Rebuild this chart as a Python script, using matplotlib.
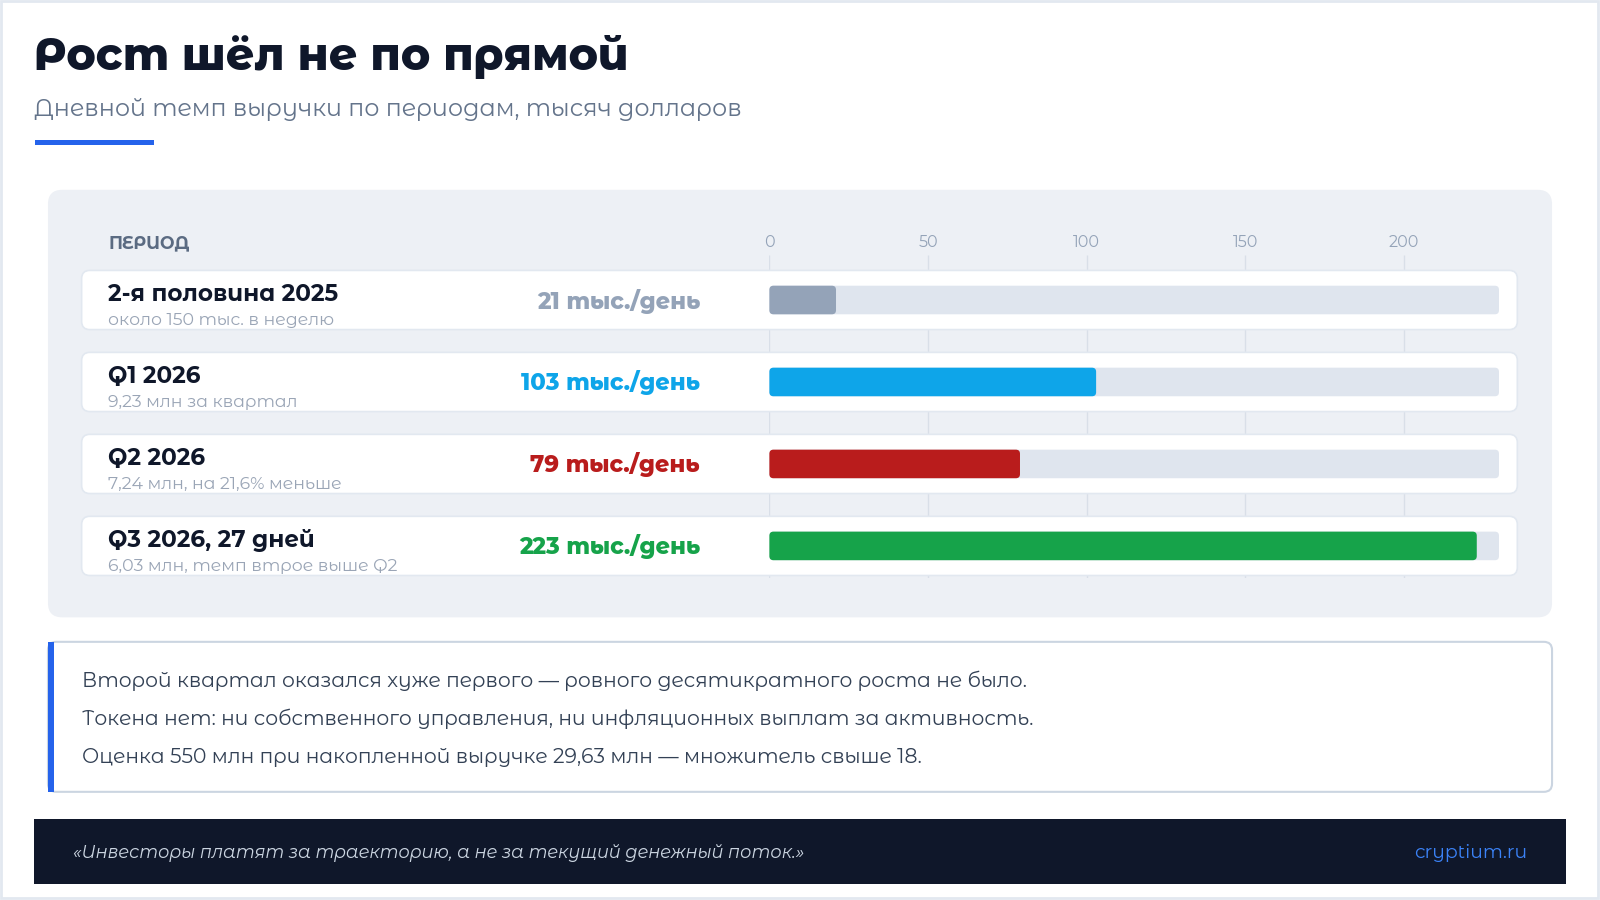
import matplotlib.pyplot as plt
from matplotlib.patches import FancyBboxPatch, Rectangle
from matplotlib.transforms import Affine2D

plt.rcParams['font.family'] = ['Montserrat Alternates', 'DejaVu Sans']

# данные
periods = ['2-я половина 2025', 'Q1 2026', 'Q2 2026', 'Q3 2026, 27 дней']
notes = ['около 150 тыс. в неделю', '9,23 млн за квартал',
         '7,24 млн, на 21,6% меньше', '6,03 млн, темп втрое выше Q2']
rates = [21, 103, 79, 223]
rate_labels = ['21 тыс./день', '103 тыс./день', '79 тыс./день', '223 тыс./день']
bar_colors = ['#94a3b8', '#0ea5e9', '#b91c1c', '#16a34a']
ticks = [0, 50, 100, 150, 200]
x_max = 230

title = 'Рост шёл не по прямой'
subtitle = 'Дневной темп выручки по периодам, тысяч долларов'
summary = ['Второй квартал оказался хуже первого — ровного десятикратного роста не было.',
           'Токена нет: ни собственного управления, ни инфляционных выплат за активность.',
           'Оценка 550 млн при накопленной выручке 29,63 млн — множитель свыше 18.']
quote = '«Инвесторы платят за траекторию, а не за текущий денежный поток.»'
site = 'cryptium.ru'

W, H = 1568, 882
fig = plt.figure(figsize=(16, 9), dpi=100)
px = Affine2D().scale(1 / W, -1 / H).translate(0, 1) + fig.transFigure

bg = fig.add_axes([0, 0, 1, 1])
bg.set_xlim(0, W)
bg.set_ylim(H, 0)
bg.axis('off')

# рамка
bg.add_patch(Rectangle((1, 1), W - 3, H - 3, fill=False, ec='#e2e8f0', lw=2))

# заголовок
bg.text(33, 56, title, fontsize=32, fontweight=800, color='#0f172a', va='center')
bg.text(33, 107, subtitle, fontsize=17.2, fontweight=400, color='#64748b', va='center')
bg.add_patch(Rectangle((34, 137), 117, 5, color='#2563eb', lw=0))

# панель графика
bg.add_patch(FancyBboxPatch((47, 186), 1474, 419, boxstyle='round,pad=0,rounding_size=14',
                            fc='#edf0f5', ec='none'))
bg.text(106, 239, 'ПЕРИОД', fontsize=12.5, fontweight=700, color='#5b6b82', va='center')

# оси баров
x0, x1 = 754, 1469
row0, step = 294, 80.33
top, bottom = 250, 566
ax = fig.add_axes([x0 / W, 1 - bottom / H, (x1 - x0) / W, (bottom - top) / H])
ax.set_xlim(0, x_max)
ax.set_ylim(3 + (bottom - 535) / step, -(row0 - top) / step)
ax.patch.set_alpha(0)
for s in ax.spines.values():
    s.set_visible(False)
ax.set_yticks([])
ax.xaxis.tick_top()
ax.set_xticks(ticks)
ax.set_xticklabels([str(t) for t in ticks])
ax.tick_params(axis='x', length=0, pad=4, labelsize=11.5, labelcolor='#94a3b8')
for lab in ax.get_xticklabels():
    lab.set_fontweight(400)
ax.vlines(ticks, ax.get_ylim()[1], ax.get_ylim()[0], color='#d9dfe8', lw=1, zorder=0)

xppu = (x1 - x0) / x_max
aspect = xppu / step
bar_h = 28 / step
for i, (name, note, v, lab, c) in enumerate(zip(periods, notes, rates, rate_labels, bar_colors)):
    yc = row0 + step * i
    card = FancyBboxPatch((80, yc - 29), 1407, 58, boxstyle='round,pad=0,rounding_size=8',
                          fc='white', ec='#e2e8f0', lw=1.2, transform=px, clip_on=False, zorder=1)
    ax.add_patch(card)
    ax.add_patch(FancyBboxPatch((0, i - bar_h / 2), x_max, bar_h,
                                boxstyle='round,pad=0,rounding_size=%.3f' % (4 / xppu),
                                mutation_aspect=aspect, fc='#dfe5ee', ec='none', zorder=2))
    ax.add_patch(FancyBboxPatch((0, i - bar_h / 2), v, bar_h,
                                boxstyle='round,pad=0,rounding_size=%.3f' % (4 / xppu),
                                mutation_aspect=aspect, fc=c, ec='none', zorder=3))
    ax.text(106, yc - 5, name, transform=px, fontsize=16.6, fontweight=700,
            color='#0f172a', va='center', clip_on=False, zorder=4)
    t = ax.text(106, yc + 20, note, transform=px, fontsize=12.5, fontweight=400,
                color='#9aa5b6', va='center', zorder=4)
    t.set_clip_path(card)
    ax.text(686, yc + 1, lab, transform=px, fontsize=16.3, fontweight=800,
            color=c, va='center', ha='right', clip_on=False, zorder=4)

# блок вывода
bg.add_patch(FancyBboxPatch((47, 629), 1474, 147, boxstyle='round,pad=0,rounding_size=8',
                            fc='white', ec='#cbd5e1', lw=1.5))
bg.add_patch(Rectangle((47, 629), 6, 147, color='#2563eb', lw=0))
for k, line in enumerate(summary):
    bg.text(80, 667 + 37.5 * k, line, fontsize=14.7, fontweight=400, color='#334155', va='center')

# подвал
bg.add_patch(Rectangle((33, 803), 1502, 63, color='#0f172a', lw=0))
bg.text(72, 836, quote, fontsize=12.8, style='italic', color='#cbd5e1', va='center')
bg.text(1497, 836, site, fontsize=13.6, color='#3b82f6', va='center', ha='right')

fig.savefig('out.png', dpi=100, facecolor='white')
